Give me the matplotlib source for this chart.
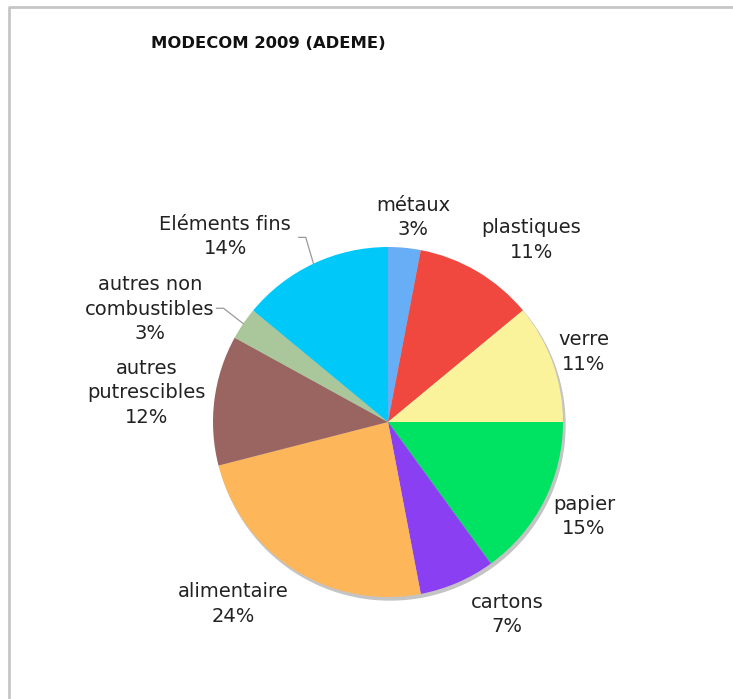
import numpy as np
import matplotlib.pyplot as plt
from matplotlib.patches import Circle

# MODECOM 2009 household waste composition (%)
categories = ["métaux", "plastiques", "verre", "papier", "cartons",
              "alimentaire", "autres\nputrescibles", "autres non\ncombustibles",
              "Eléments fins"]
shares = [3, 11, 11, 15, 7, 24, 12, 3, 14]
colors = ["#68aef6", "#f0483e", "#faf39c", "#00e262", "#8b3ff2",
          "#fdb65a", "#9a6561", "#a9c79b", "#00c9f9"]

# label centres, offset from pie centre in units of radius
label_pos = [(0.145, 1.17), (0.82, 1.04), (1.12, 0.40), (1.12, -0.54),
             (0.68, -1.10), (-0.886, -1.04), (-1.38, 0.166), (-1.36, 0.645),
             (-0.93, 1.06)]
# slices whose labels get a leader line
leaders = {7: (-0.94, 0.65), 8: (-0.47, 1.055)}

W, H = 733, 699
fig = plt.figure(figsize=(W / 100, H / 100), dpi=100)
ax = fig.add_axes([0, 0, 1, 1])

cx, cy, R = 388, H - 422, 175

# soft drop shadow behind the pie
ax.add_patch(Circle((cx + 2, cy - 3), R, color="#c4c4c4", zorder=0))
wedges, _ = ax.pie(shares, colors=colors, startangle=90, counterclock=False,
                   center=(cx, cy), radius=R, wedgeprops=dict(linewidth=0))
for w in wedges:
    w.set_zorder(1)

for i, (w, lab, pct) in enumerate(zip(wedges, categories, shares)):
    dx, dy = label_pos[i]
    ax.text(cx + dx * R, cy + dy * R, f"{lab}\n{pct}%", ha="center", va="center",
            fontsize=14, color="#222222", linespacing=1.36, zorder=3)
    if i in leaders:
        mid = np.deg2rad((w.theta1 + w.theta2) / 2)
        ex, ey = cx + R * np.cos(mid), cy + R * np.sin(mid)
        kx, ky = leaders[i]
        kx, ky = cx + kx * R, cy + ky * R
        ax.plot([kx - 7, kx, ex], [ky, ky, ey], color="#9a9a9a", lw=0.9, zorder=2)

fig.text(268 / W, 1 - 44 / H, "MODECOM 2009 (ADEME)", ha="center", va="center",
         fontsize=11.8, fontweight="bold", color="#111111")

# chart frame (left and top edges)
ax.plot([9, 9, W], [0, H - 7, H - 7], color="#c6c6c6", lw=2, zorder=4)

ax.set_xlim(0, W)
ax.set_ylim(0, H)
ax.set_aspect("auto")
ax.axis("off")
fig.savefig("out.png", dpi=100)
